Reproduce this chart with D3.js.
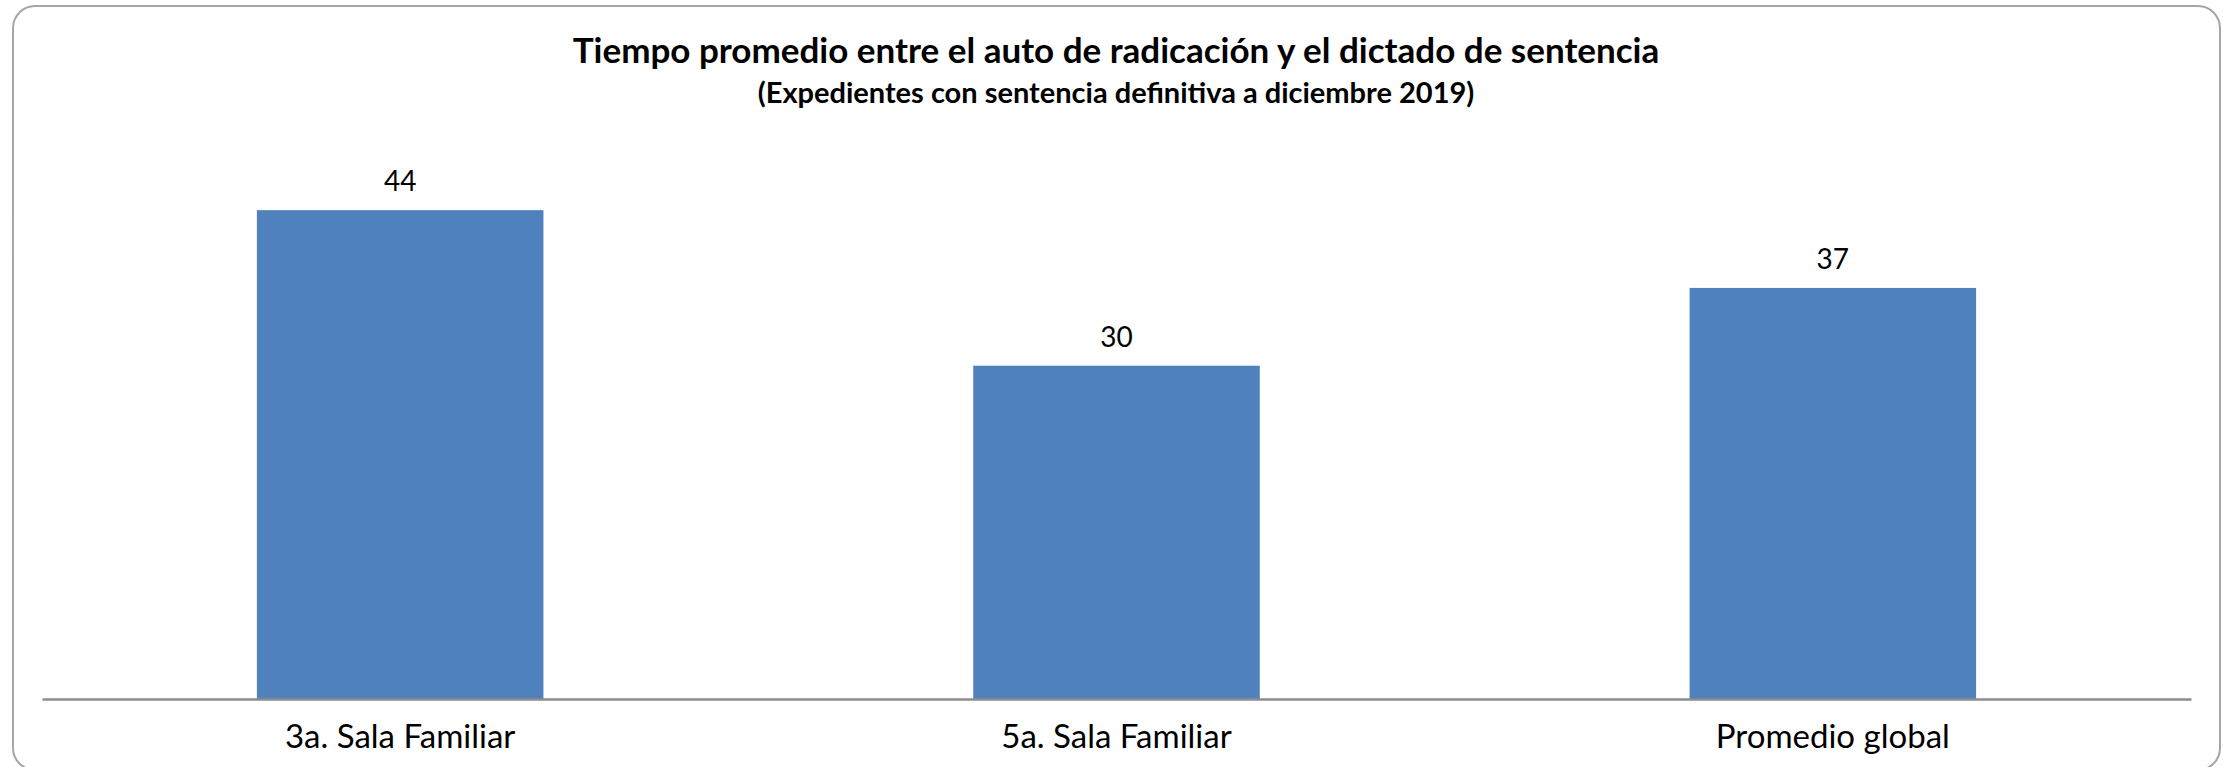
<!DOCTYPE html>
<meta charset="utf-8">
<script src="https://d3js.org/d3.v7.min.js"></script>
<style>
  body { margin: 0; background: #fff; }
  text { font-family: Lato, "Open Sans", sans-serif; }
</style>
<div id="chart"></div>
<script>

// data
var categories = ["3a. Sala Familiar", "5a. Sala Familiar", "Promedio global"]
var values = [44, 30, 37]
var yMax = 50

var titleText = "Tiempo promedio entre el auto de radicación y el dictado de sentencia"
var subtitleText = "(Expedientes con sentencia definitiva a diciembre 2019)"

var width = 2226
var height = 767
var barColor = "#4F81BD"

var svg = d3.select("#chart").append("svg")
	.attr("width", width).attr("height", height)

// outer frame
svg.append("rect")
	.attr("x", 13).attr("y", 6)
	.attr("width", 2207).attr("height", 764)
	.attr("rx", 22).attr("ry", 22)
	.attr("fill", "#fff")
	.attr("stroke", "#A6A6A6")
	.attr("stroke-width", 2)

// titles
svg.append("text")
	.text(titleText)
	.attr("x", 1116).attr("y", 63)
	.attr("text-anchor", "middle")
	.style("font-weight", "bold")
	.style("font-size", "35px")

svg.append("text")
	.text(subtitleText)
	.attr("x", 1116).attr("y", 103)
	.attr("text-anchor", "middle")
	.style("font-weight", "bold")
	.style("font-size", "29px")

var x = d3.scaleBand()
	.domain(categories)
	.range([42, 2191])
	.paddingInner(0.6)
	.paddingOuter(0.3)

var y = d3.scaleLinear()
	.domain([0, yMax])
	.range([699, 143.5])

var data = categories.map(function(c, i){ return {cat: c, val: values[i]} })

svg.append("g")
	.selectAll("rect")
	.data(data)
	.join("rect")
	.attr("x", d => x(d.cat))
	.attr("y", d => y(d.val))
	.attr("width", x.bandwidth())
	.attr("height", d => y(0) - y(d.val))
	.attr("fill", barColor)

// value labels
svg.append("g")
	.selectAll("text")
	.data(data)
	.join("text")
	.text(d => d.val)
	.attr("x", d => x(d.cat) + x.bandwidth()/2)
	.attr("y", d => y(d.val) - 19)
	.attr("text-anchor", "middle")
	.style("font-size", "28px")
	.attr("fill", "#000")

// category axis
var xAxis = svg.append("g")
	.attr("transform", "translate(0," + y(0) + ")")
	.call(d3.axisBottom(x).tickSize(0).tickPadding(26))

xAxis.select(".domain")
	.attr("stroke", "#8C8C8C")
	.attr("stroke-width", 2.5)

xAxis.selectAll("text")
	.style("font-family", "Lato, sans-serif")
	.style("font-size", "33px")
	.attr("fill", "#000")

</script>
